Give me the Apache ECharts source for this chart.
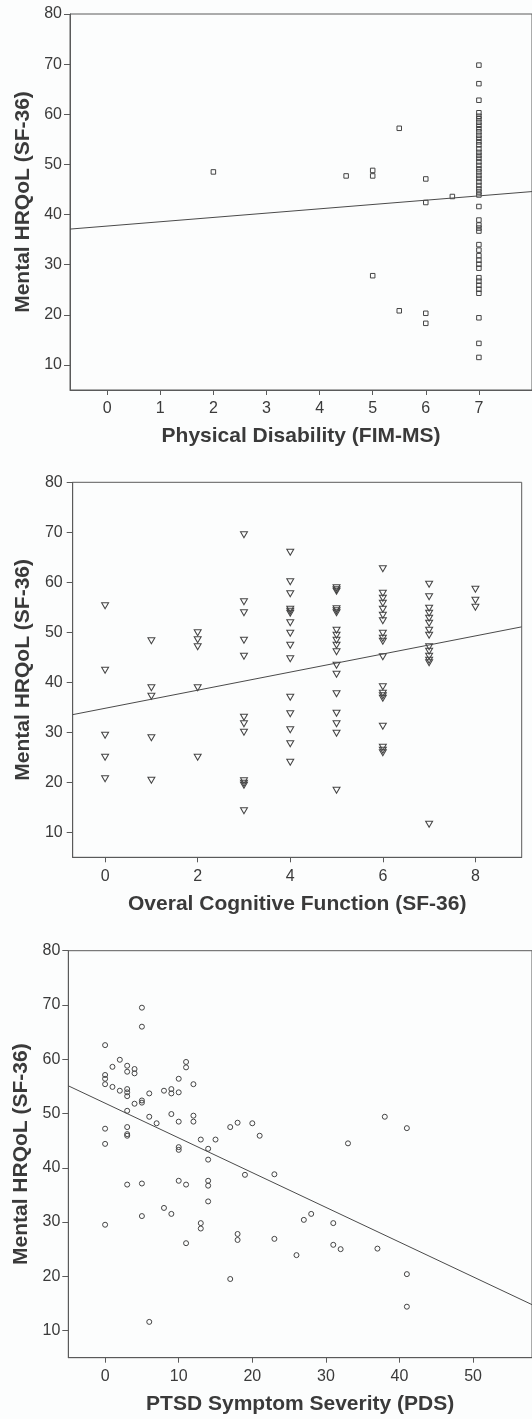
<!DOCTYPE html>
<html><head><meta charset="utf-8">
<script src="https://cdn.jsdelivr.net/npm/echarts@6/dist/echarts.min.js"></script>
<style>html,body{margin:0;padding:0;background:#fcfdfd}#c{width:532px;height:1419px}</style>
</head><body><div id="c"></div>
<script>
// ---- data ----
const yTicks = [10, 20, 30, 40, 50, 60, 70, 80];
const fimTicks = [0, 1, 2, 3, 4, 5, 6, 7];
const cogTicks = [0, 2, 4, 6, 8];
const pdsTicks = [0, 10, 20, 30, 40, 50];

const fimPoints = [
  [2, 48.5], [4.5, 47.7], [5, 48.8], [5, 47.7], [5, 27.8], [5.5, 57.2], [5.5, 20.8],
  [6, 47.1], [6, 42.4], [6, 20.3], [6, 18.3], [6.5, 43.6],
  [7, 69.8], [7, 66.1], [7, 62.8],
  [7, 60.3], [7, 59.6], [7, 59.1], [7, 58.4], [7, 57.8], [7, 57.1], [7, 56.5], [7, 55.8],
  [7, 55.2], [7, 54.5], [7, 53.9], [7, 53.1], [7, 52.4], [7, 51.8], [7, 51.2], [7, 50.5],
  [7, 49.8], [7, 49.1], [7, 48.5], [7, 47.8], [7, 47.2], [7, 46.5], [7, 45.8], [7, 45.1],
  [7, 44.5], [7, 43.9],
  [7, 41.6], [7, 38.9], [7, 37.9], [7, 37.3], [7, 36.7],
  [7, 34.0], [7, 32.9], [7, 31.8], [7, 30.9], [7, 30.1], [7, 29.3], [7, 27.4], [7, 26.7],
  [7, 25.9], [7, 25.1], [7, 24.3],
  [7, 19.4], [7, 14.3], [7, 11.5]
];

const cogPoints = [
  [0, 55.3], [0, 42.4], [0, 29.4], [0, 25.0], [0, 20.7],
  [1, 48.3], [1, 38.9], [1, 37.2], [1, 28.9], [1, 20.4],
  [2, 49.9], [2, 48.5], [2, 47.1], [2, 38.9], [2, 25.0],
  [3, 69.5], [3, 56.1], [3, 53.9], [3, 48.4], [3, 45.2], [3, 33.0], [3, 31.7], [3, 30.0],
  [3, 20.3], [3, 19.8], [3, 19.4], [3, 14.3],
  [4, 66.0], [4, 60.1], [4, 57.7], [4, 54.6], [4, 54.2], [4, 53.8], [4, 51.9], [4, 49.8],
  [4, 47.4], [4, 44.7], [4, 37.0], [4, 33.7], [4, 30.5], [4, 27.7], [4, 24.0],
  [5, 58.9], [5, 58.5], [5, 58.2], [5, 54.7], [5, 54.3], [5, 53.9], [5, 50.4], [5, 49.4],
  [5, 48.4], [5, 47.4], [5, 46.1], [5, 43.4], [5, 41.6], [5, 37.7], [5, 33.8], [5, 31.7],
  [5, 29.8], [5, 18.4],
  [6, 62.7], [6, 57.8], [6, 56.8], [6, 55.8], [6, 54.6], [6, 53.4], [6, 52.3], [6, 49.8],
  [6, 48.8], [6, 48.2], [6, 45.1], [6, 39.1], [6, 37.8], [6, 37.3], [6, 36.8], [6, 31.2],
  [6, 27.0], [6, 26.4], [6, 25.9],
  [7, 59.6], [7, 57.1], [7, 54.8], [7, 53.8], [7, 52.8], [7, 51.8], [7, 50.4], [7, 49.4],
  [7, 47.1], [7, 46.2], [7, 45.2], [7, 44.4], [7, 43.9], [7, 11.6],
  [8, 58.6], [8, 56.4], [8, 55.0]
];

const pdsPoints = [
  [0, 62.6], [5, 69.5], [5, 66.0], [2, 59.9], [1, 58.6], [0, 57.1], [0, 56.4], [0, 55.4],
  [1, 54.9], [2, 54.2], [3, 58.8], [3, 57.7], [4, 58.2], [4, 57.4], [3, 54.5], [3, 53.9],
  [3, 53.2], [4, 51.8], [5, 52.4], [5, 52.0], [6, 53.7], [8, 54.2], [9, 54.5], [9, 53.7],
  [10, 53.9], [10, 56.4], [11, 59.5], [11, 58.5], [12, 55.4], [3, 50.5], [0, 47.2], [0, 44.4],
  [3, 47.5], [3, 46.2], [3, 45.9], [6, 49.4], [7, 48.2], [9, 49.9], [10, 48.5], [12, 49.6],
  [12, 48.5], [10, 43.8], [10, 43.3], [13, 45.2], [14, 43.5], [15, 45.2], [17, 47.5],
  [18, 48.3], [20, 48.2], [21, 45.9], [33, 44.5], [38, 49.4], [41, 47.3], [14, 41.5],
  [3, 36.9], [5, 37.1], [10, 37.6], [11, 36.9], [14, 37.6], [14, 36.7], [19, 38.7],
  [23, 38.8], [14, 33.8], [8, 32.6], [9, 31.5], [5, 31.1], [0, 29.5], [13, 29.8], [13, 28.8],
  [11, 26.1], [18, 27.8], [18, 26.7], [23, 26.9], [27, 30.4], [28, 31.5], [31, 29.8],
  [26, 23.9], [31, 25.8], [32, 25.0], [37, 25.1], [17, 19.5], [41, 20.4], [41, 14.4], [6, 11.6]
];

// regression fits: [intercept, slope]
const fimFit = [37.7, 0.86];
const cogFit = [34.8, 1.81];
const pdsFit = [51.9, -0.64];

// ---- chart ----
const FONT = 'Liberation Sans, Arial, sans-serif';
const TXT = '#3a3a3a';
const AX = '#5a5a5a';
const Y_MIN = 5, Y_MAX = 80;

const panels = [
  { grid: { left: 70, top: 14, width: 470.7, height: 376 }, xMin: -0.7, xMax: 8, ticks: fimTicks,
    name: 'Physical Disability (FIM-MS)', pts: fimPoints, fit: fimFit,
    symbol: 'rect', size: 4.5, rotate: 0, yMargin: 8, yGap: 36 },
  { grid: { left: 72.7, top: 482.3, width: 449, height: 375 }, xMin: -0.7, xMax: 9, ticks: cogTicks,
    name: 'Overal Cognitive Function (SF-36)', pts: cogPoints, fit: cogFit,
    symbol: 'triangle', size: [7, 6], rotate: 180, yMargin: 10, yGap: 39 },
  { grid: { left: 68.3, top: 950.7, width: 477.5, height: 407 }, xMin: -5, xMax: 58, ticks: pdsTicks,
    name: 'PTSD Symptom Severity (PDS)', pts: pdsPoints, fit: pdsFit,
    symbol: 'circle', size: 5, rotate: 0, yMargin: 8, yGap: 36 }
];

const grids = [], xAxes = [], yAxes = [], series = [];
panels.forEach((p, i) => {
  grids.push(Object.assign({ show: true, borderColor: AX, borderWidth: 1, backgroundColor: 'transparent' }, p.grid));
  xAxes.push({
    type: 'value', gridIndex: i, min: p.xMin, max: p.xMax,
    name: p.name, nameLocation: 'middle', nameGap: 36,
    nameTextStyle: { fontFamily: FONT, fontSize: 21, fontWeight: 'bold', color: TXT },
    axisLine: { show: true, onZero: false, lineStyle: { color: AX, width: 1 } },
    axisTick: { show: true, length: 5, customValues: p.ticks, lineStyle: { color: AX } },
    axisLabel: { customValues: p.ticks, margin: 11, fontFamily: FONT, fontSize: 16, color: TXT },
    splitLine: { show: false }
  });
  yAxes.push({
    type: 'value', gridIndex: i, min: Y_MIN, max: Y_MAX,
    name: 'Mental HRQoL (SF-36)', nameLocation: 'middle', nameGap: p.yGap,
    nameTextStyle: { fontFamily: FONT, fontSize: 21, fontWeight: 'bold', color: TXT },
    axisLine: { show: true, onZero: false, lineStyle: { color: AX, width: 1 } },
    axisTick: { show: true, length: 6, customValues: yTicks, lineStyle: { color: AX } },
    axisLabel: { customValues: yTicks, margin: p.yMargin, fontFamily: FONT, fontSize: 16, color: TXT },
    splitLine: { show: false }
  });
  series.push({
    type: 'scatter', xAxisIndex: i, yAxisIndex: i, data: p.pts,
    symbol: p.symbol, symbolSize: p.size, symbolRotate: p.rotate, silent: true,
    itemStyle: { color: 'rgba(255,255,255,0)', borderColor: '#444', borderWidth: 1, opacity: 1 }
  });
  series.push({
    type: 'line', xAxisIndex: i, yAxisIndex: i, silent: true, symbol: 'none', clip: true,
    data: [[p.xMin, p.fit[0] + p.fit[1] * p.xMin], [p.xMax, p.fit[0] + p.fit[1] * p.xMax]],
    lineStyle: { color: '#4a4a4a', width: 1 }
  });
});

const chart = echarts.init(document.getElementById('c'), null, { renderer: 'canvas' });
chart.setOption({
  backgroundColor: '#fcfdfd',
  animation: false,
  grid: grids, xAxis: xAxes, yAxis: yAxes, series: series
});
</script></body></html>
